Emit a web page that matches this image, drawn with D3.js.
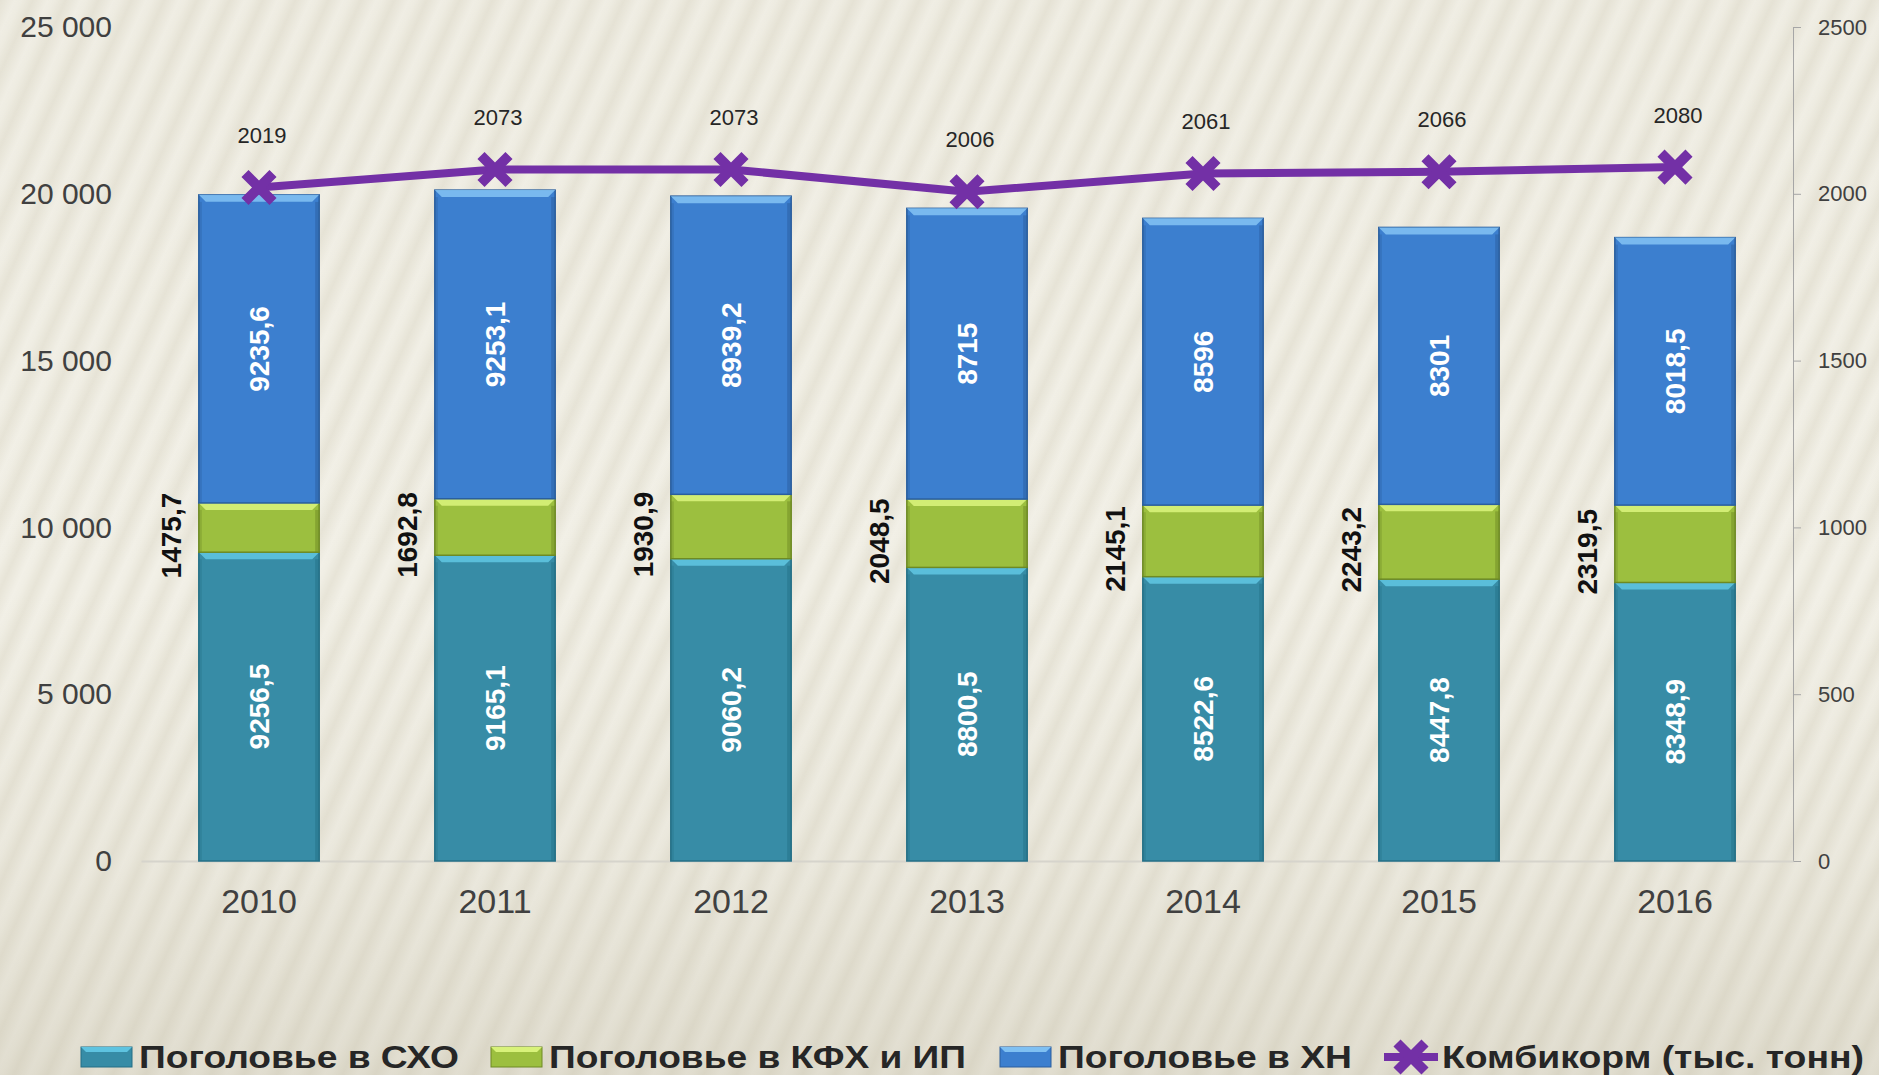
<!DOCTYPE html>
<html>
<head>
<meta charset="utf-8">
<script src="https://cdn.jsdelivr.net/npm/d3@7"></script>
<style>
  html, body { margin: 0; padding: 0; background: #ECE9DC; }
  svg { display: block; }
</style>
</head>
<body>
<div id="chart"></div>
<script>
// chart data
var years = ["2010", "2011", "2012", "2013", "2014", "2015", "2016"];
var headSKHO = [9256.5, 9165.1, 9060.2, 8800.5, 8522.6, 8447.8, 8348.9];   // Поголовье в СХО
var headKFH = [1475.7, 1692.8, 1930.9, 2048.5, 2145.1, 2243.2, 2319.5];    // Поголовье в КФХ и ИП
var headHN = [9235.6, 9253.1, 8939.2, 8715, 8596, 8301, 8018.5];           // Поголовье в ХН
var feed = [2019, 2073, 2073, 2006, 2061, 2066, 2080];                     // Комбикорм
var leftTicks = [0, 5000, 10000, 15000, 20000, 25000];
var rightTicks = [0, 500, 1000, 1500, 2000, 2500];
var seriesNames = ["Поголовье в СХО", "Поголовье в КФХ и ИП", "Поголовье в ХН", "Комбикорм (тыс. тонн)"];

var W = 1879, H = 1075;
var colors = {
    skho: {base: "#378CA6", light: "#5EC3E0", dark: "#246F86"},
    kfh: {base: "#9CBF3F", light: "#D8F27A", dark: "#6E8A24"},
    hn: {base: "#3C7FCF", light: "#7FC0F2", dark: "#2A5E9E"},
    line: "#7330A6"
};

var loc = d3.formatLocale({decimal: ",", thousands: "\u00a0", grouping: [3], currency: ["", ""]});
var fmtAxis = loc.format(",d");
function fmtVal(v) { return Number.isInteger(v) ? String(v) : loc.format(".1f")(v); }

var svg = d3.select("#chart").append("svg").attr("width", W).attr("height", H);
var defs = svg.append("defs");

//Striped background (soft)
var grad = defs.append("linearGradient").attr("id", "stripeGrad");
grad.append("stop").attr("offset", "0%").attr("stop-color", "#E7E4D7");
grad.append("stop").attr("offset", "45%").attr("stop-color", "#F2F0E7");
grad.append("stop").attr("offset", "65%").attr("stop-color", "#F0EEE4");
grad.append("stop").attr("offset", "100%").attr("stop-color", "#E7E4D7");
var pat = defs.append("pattern").attr("id", "stripes")
    .attr("patternUnits", "userSpaceOnUse")
    .attr("width", 30).attr("height", 40)
    .attr("patternTransform", "rotate(24)");
pat.append("rect").attr("width", 30).attr("height", 40).attr("fill", "url(#stripeGrad)");

var shade = defs.append("linearGradient").attr("id", "shade").attr("x1", 0).attr("y1", 0).attr("x2", 0).attr("y2", 1);
shade.append("stop").attr("offset", "0%").attr("stop-color", "#B9B29A").attr("stop-opacity", 0.04);
shade.append("stop").attr("offset", "55%").attr("stop-color", "#B9B29A").attr("stop-opacity", 0);
shade.append("stop").attr("offset", "80%").attr("stop-color", "#B9B29A").attr("stop-opacity", 0.12);
shade.append("stop").attr("offset", "100%").attr("stop-color", "#B9B29A").attr("stop-opacity", 0.3);

svg.append("rect").attr("width", W).attr("height", H).attr("fill", "url(#stripes)");
svg.append("rect").attr("width", W).attr("height", H).attr("fill", "url(#shade)");

//Scales
var x = d3.scaleBand().domain(years).range([141, 1793]).paddingInner(0.49).paddingOuter(0.245);
var yL = d3.scaleLinear().domain([0, 25000]).range([861, 27]);
var yR = d3.scaleLinear().domain([0, 2500]).range([861, 27]);

//Axes
var gLeft = svg.append("g").attr("transform", "translate(112,0)")
    .call(d3.axisLeft(yL).tickValues(leftTicks).tickSize(0).tickPadding(0).tickFormat(fmtAxis));
gLeft.select(".domain").remove();
gLeft.selectAll("text").attr("font-family", "'Liberation Sans', Arial, sans-serif")
    .attr("font-size", 30).attr("fill", "#404040");

var gRight = svg.append("g").attr("transform", "translate(1793,0)")
    .call(d3.axisRight(yR).tickValues(rightTicks).tickSize(8).tickSizeOuter(0).tickPadding(17)
        .tickFormat(d3.format("d")));
gRight.select(".domain").attr("stroke", "#A6A6A6");
gRight.selectAll(".tick line").attr("stroke", "#A6A6A6");
gRight.selectAll("text").attr("font-family", "'Liberation Sans', Arial, sans-serif")
    .attr("font-size", 22).attr("fill", "#404040");

var gBottom = svg.append("g").attr("transform", "translate(0,861)")
    .call(d3.axisBottom(x).tickSize(0).tickSizeOuter(0).tickPadding(28));
gBottom.select(".domain").attr("stroke", "#D6D4CC").attr("stroke-width", 2);
gBottom.selectAll("text").attr("font-family", "'Liberation Sans', Arial, sans-serif")
    .attr("font-size", 34).attr("fill", "#404040");

//Stacked bars
var keys = ["skho", "kfh", "hn"];
var rows = years.map(function (y, i) {
    return {year: y, skho: headSKHO[i], kfh: headKFH[i], hn: headHN[i]};
});
var stack = d3.stack().keys(keys)(rows);
var bw = x.bandwidth();

function bevelBar(g, key, x0, yTop, yBot) {
    var c = colors[key], h = yBot - yTop, b = Math.min(7, h / 3);
    g.append("rect").attr("x", x0).attr("y", yTop).attr("width", bw).attr("height", h)
        .attr("fill", c.base).attr("stroke", c.dark).attr("stroke-width", 1.5);
    // top bevel
    g.append("path")
        .attr("d", "M" + x0 + "," + yTop + "H" + (x0 + bw) + "L" + (x0 + bw - b) + "," + (yTop + b) +
            "H" + (x0 + b) + "Z")
        .attr("fill", c.light).attr("opacity", 0.9);
    // side shading
    g.append("rect").attr("x", x0 + bw - 4).attr("y", yTop + b).attr("width", 4).attr("height", h - b)
        .attr("fill", c.dark).attr("opacity", 0.5);
    g.append("rect").attr("x", x0).attr("y", yTop + b).attr("width", 3).attr("height", h - b)
        .attr("fill", c.dark).attr("opacity", 0.35);
}

var barGroup = svg.append("g").attr("class", "bars");
stack.forEach(function (layer) {
    layer.forEach(function (d) {
        var g = barGroup.append("g");
        bevelBar(g, layer.key, x(d.data.year), yL(d[1]), yL(d[0]));
    });
});

//Bar value labels
var labelGroup = svg.append("g").attr("class", "barLabels")
    .attr("font-family", "'Liberation Sans', Arial, sans-serif").attr("font-weight", "bold").attr("font-size", 28);
stack.forEach(function (layer) {
    layer.forEach(function (d) {
        var cx = x(d.data.year) + bw / 2, cy = (yL(d[0]) + yL(d[1])) / 2;
        var v = d.data[layer.key];
        var t = labelGroup.append("text").attr("text-anchor", "middle").attr("dy", "0.35em").text(fmtVal(v));
        if (layer.key === "kfh") {
            t.attr("fill", "#111").attr("transform", "translate(" + (x(d.data.year) - 28) + "," + (cy + 8) + ") rotate(-90)");
        } else {
            t.attr("fill", "#FFFFFF").attr("transform", "translate(" + cx + "," + cy + ") rotate(-90)");
        }
    });
});

//Line on secondary axis
var lineGen = d3.line()
    .x(function (d, i) { return x(years[i]) + bw / 2; })
    .y(function (d) { return yR(d); });
svg.append("path").datum(feed).attr("d", lineGen)
    .attr("fill", "none").attr("stroke", colors.line).attr("stroke-width", 8).attr("stroke-linejoin", "round");

var xMark = "M-14,-14L14,14M-14,14L14,-14";
svg.append("g").selectAll("path").data(feed).enter().append("path")
    .attr("transform", function (d, i) { return "translate(" + (x(years[i]) + bw / 2) + "," + yR(d) + ")"; })
    .attr("d", xMark).attr("stroke", colors.line).attr("stroke-width", 10).attr("fill", "none");

svg.append("g").selectAll("text").data(feed).enter().append("text")
    .attr("x", function (d, i) { return x(years[i]) + bw / 2 + 3; })
    .attr("y", function (d) { return yR(d) - 52; })
    .attr("dy", "0.35em").attr("text-anchor", "middle")
    .attr("font-family", "'Liberation Sans', Arial, sans-serif").attr("font-size", 22).attr("fill", "#262626")
    .text(function (d) { return d; });

//Legend
var legendItems = [
    {name: seriesNames[0], key: "skho", x: 81, tw: 320},
    {name: seriesNames[1], key: "kfh", x: 491, tw: 417},
    {name: seriesNames[2], key: "hn", x: 1000, tw: 294},
    {name: seriesNames[3], key: "line", x: 1384, tw: 422}
];
var legend = svg.append("g").attr("transform", "translate(0,1057)");
legendItems.forEach(function (it) {
    var g = legend.append("g").attr("transform", "translate(" + it.x + ",0)");
    if (it.key === "line") {
        g.append("line").attr("x1", 0).attr("x2", 54).attr("y1", 0).attr("y2", 0)
            .attr("stroke", colors.line).attr("stroke-width", 8);
        g.append("path").attr("transform", "translate(27,0)").attr("d", xMark)
            .attr("stroke", colors.line).attr("stroke-width", 10).attr("fill", "none");
    } else {
        var c = colors[it.key];
        g.append("rect").attr("x", 0).attr("y", -10).attr("width", 51).attr("height", 20)
            .attr("fill", c.base).attr("stroke", c.dark).attr("stroke-width", 1);
        g.append("path").attr("d", "M0,-10H51L46,-5H5Z").attr("fill", c.light);
    }
    g.append("text").attr("x", 58).attr("dy", "0.36em")
        .attr("font-family", "'Liberation Sans Narrow', 'Liberation Sans', Arial, sans-serif")
        .attr("font-weight", "bold").attr("font-size", 31).attr("fill", "#262626")
        .attr("textLength", it.tw).attr("lengthAdjust", "spacingAndGlyphs")
        .text(it.name);
});
</script>
</body>
</html>
